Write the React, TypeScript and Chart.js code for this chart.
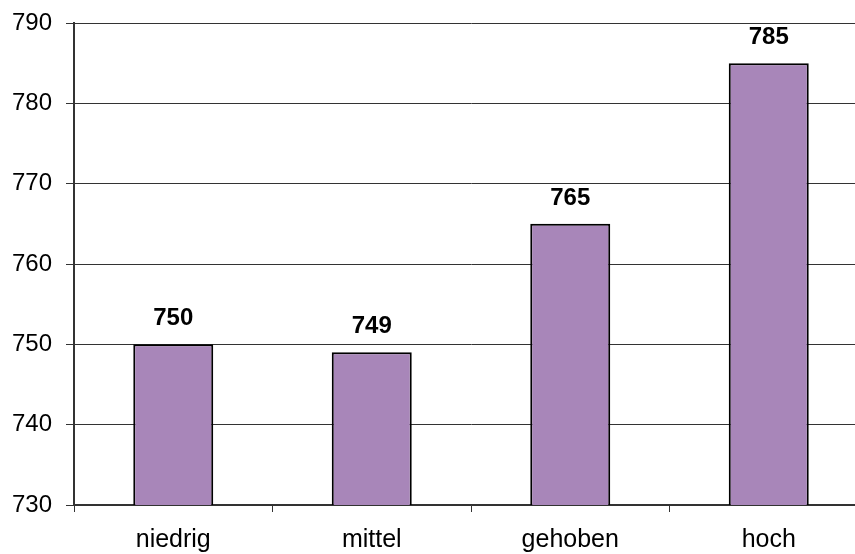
import React, { useEffect, useRef } from "react";
import { Chart, registerables } from "chart.js";

Chart.register(...registerables);

const categories = ["niedrig", "mittel", "gehoben", "hoch"];
const values = [750, 749, 765, 785];
const yMin = 730;
const yMax = 790;
const yStep = 10;

const FONT = '"Liberation Sans", Arial, sans-serif';

// Writes each bar's value in bold above it
const valueLabels = {
  id: "valueLabels",
  afterDatasetsDraw(chart: any) {
    const ctx = chart.ctx;
    const meta = chart.getDatasetMeta(0);
    ctx.save();
    ctx.fillStyle = "#000";
    ctx.font = `bold 24px ${FONT}`;
    ctx.textAlign = "center";
    ctx.textBaseline = "alphabetic";
    meta.data.forEach((bar: any, i: number) => {
      ctx.fillText(String(values[i]), bar.x, bar.y - 19);
    });
    ctx.restore();
  },
};

export default function App() {
  const ref = useRef<HTMLCanvasElement | null>(null);

  useEffect(() => {
    if (!ref.current) return;
    const chart = new Chart(ref.current, {
      type: "bar",
      data: {
        labels: categories,
        datasets: [
          {
            data: values,
            backgroundColor: "#A886B9",
            borderColor: "#000",
            borderWidth: 2,
            borderSkipped: false,
            categoryPercentage: 1,
            barPercentage: 0.403,
          },
        ],
      },
      options: {
        responsive: false,
        animation: false,
        layout: { padding: { left: 0, top: 23, right: 12, bottom: 0 } },
        plugins: {
          legend: { display: false },
          tooltip: { enabled: false },
        },
        scales: {
          x: {
            grid: {
              offset: true,
              drawOnChartArea: false,
              drawTicks: true,
              tickLength: 7,
              color: "#333",
            },
            border: { color: "#333", width: 1.5 },
            ticks: {
              color: "#000",
              padding: 13,
              font: { family: FONT, size: 25 },
            },
            afterFit(scale: any) {
              scale.height = 49;
              scale.paddingLeft = 0;
              scale.paddingRight = 0;
            },
          },
          y: {
            min: yMin,
            max: yMax,
            ticks: {
              stepSize: yStep,
              color: "#000",
              padding: 14,
              font: { family: FONT, size: 24 },
            },
            grid: {
              color: "#333",
              tickLength: 8,
              lineWidth: 1,
            },
            border: { color: "#333", width: 2 },
            afterFit(scale: any) {
              scale.width = 74;
              scale.paddingTop = 0;
              scale.paddingBottom = 0;
            },
          },
        },
      },
      plugins: [valueLabels],
    });
    return () => chart.destroy();
  }, []);

  return (
    <div
      style={{
        position: "fixed",
        left: 0,
        top: 0,
        width: 855,
        height: 554,
        overflow: "hidden",
        background: "#fff",
      }}
    >
      <canvas ref={ref} width={880} height={554} style={{ width: 880, height: 554, display: "block" }} />
    </div>
  );
}
